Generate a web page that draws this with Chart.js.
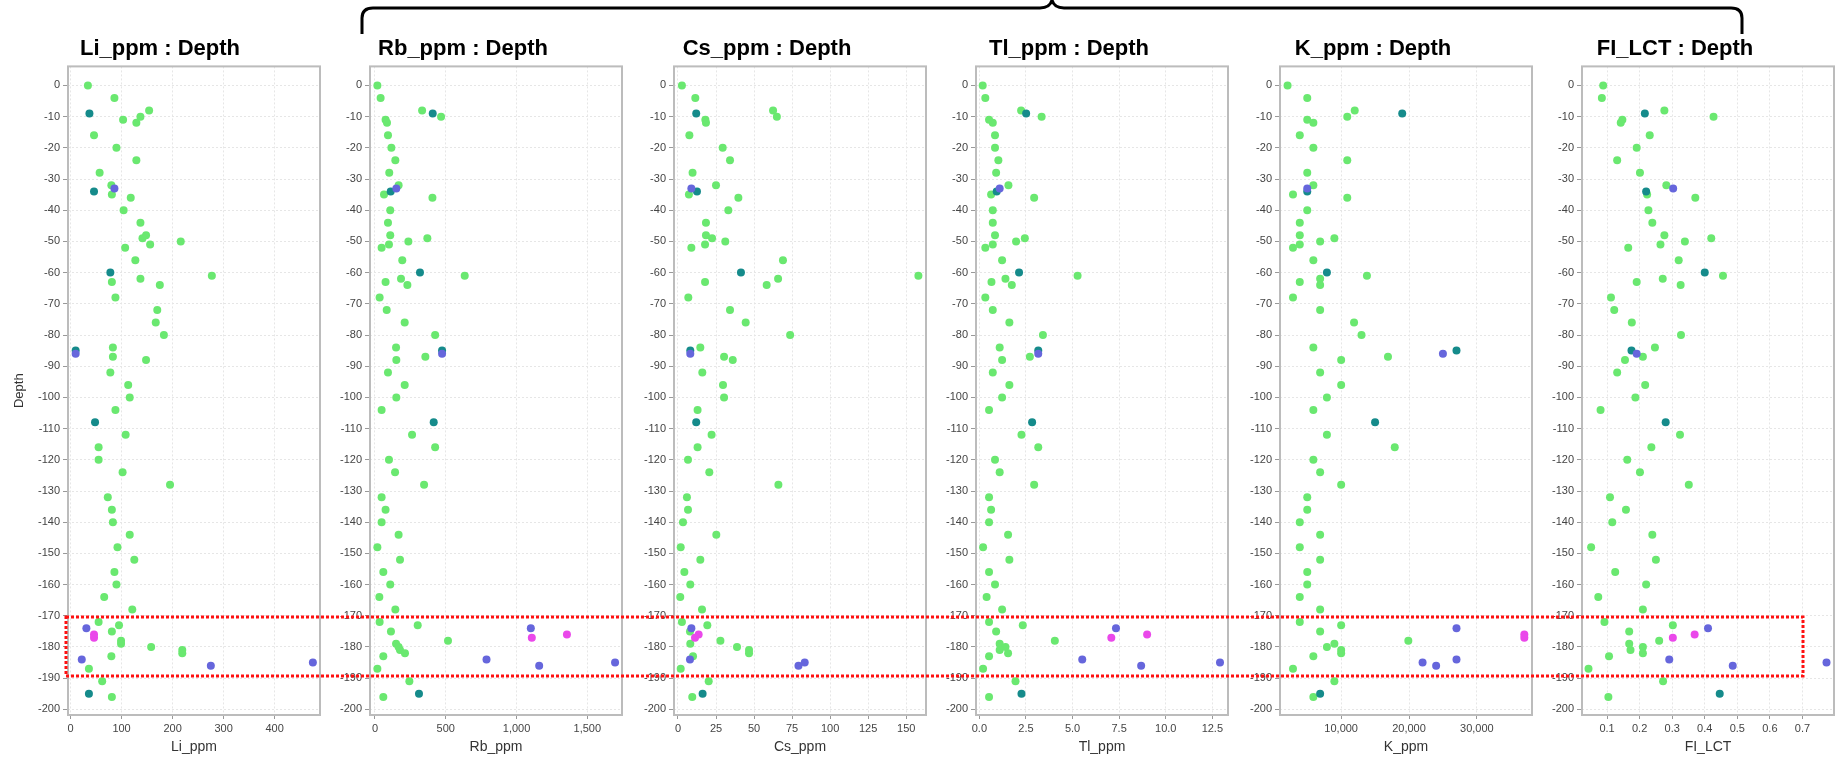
<!DOCTYPE html>
<html>
<head>
<meta charset="utf-8">
<script src="https://cdn.jsdelivr.net/npm/chart.js@4.4.1/dist/chart.umd.min.js"></script>
<style>
  html, body { margin: 0; padding: 0; background: #fff; overflow: hidden; }
  #page { position: relative; width: 1836px; height: 759px; }
  .panel { position: absolute; top: 0; height: 759px; }
  #overlay { position: absolute; left: 0; top: 0; pointer-events: none; }
</style>
</head>
<body>
<div id="page">
  <canvas id="overlay" width="1836" height="759"></canvas>
</div>
<script>
// samples, top to bottom
const depth = [0, -4, -8, -9, -10, -11, -12, -16, -20, -24, -28, -32, -33, -34, -35, -36, -40, -44, -48, -49,
  -50, -51, -52, -56, -60, -61, -62, -63, -64, -68, -72, -76, -80, -84, -85, -86, -87, -88, -92, -96,
  -100, -104, -108, -112, -116, -120, -124, -128, -132, -136, -140, -144, -148, -152, -156, -160, -164, -168, -172, -173,
  -174, -175, -176, -177, -178, -179, -180, -181, -182, -183, -184, -185, -186, -187, -191, -195, -196];

// g = green, t = teal, b = blue, m = magenta
const group = ["g", "g", "g", "t", "g", "g", "g", "g", "g", "g", "g", "g", "b", "t", "g", "g", "g", "g", "g", "g",
  "g", "g", "g", "g", "t", "g", "g", "g", "g", "g", "g", "g", "g", "g", "t", "b", "g", "g", "g", "g",
  "g", "g", "t", "g", "g", "g", "g", "g", "g", "g", "g", "g", "g", "g", "g", "g", "g", "g", "g", "g",
  "b", "g", "m", "m", "g", "g", "g", "g", "g", "g", "b", "b", "b", "g", "g", "t", "g"];

const liPpm = [34, 86, 154, 37, 137, 103, 129, 46, 90, 129, 57, 80, 86, 46, 81, 118, 104, 137, 148, 141,
  216, 156, 107, 127, 78, 277, 137, 81, 175, 88, 170, 167, 183, 83, 10, 10, 83, 148, 78, 113,
  116, 88, 48, 108, 55, 55, 102, 195, 73, 81, 83, 116, 92, 125, 86, 90, 66, 121, 55, 95,
  31, 81, 46, 46, 99, 99, 158, 219, 219, 80, 22, 475, 275, 36, 62, 36, 81];

const rbPpm = [17, 40, 333, 408, 467, 75, 85, 92, 116, 144, 101, 167, 151, 111, 64, 406, 108, 92, 108, 370,
  236, 99, 47, 193, 318, 634, 184, 75, 229, 33, 83, 210, 425, 149, 474, 474, 356, 151, 92, 210,
  151, 47, 415, 262, 425, 99, 142, 347, 47, 75, 47, 167, 17, 177, 59, 108, 31, 144, 33, 302,
  1101, 113, 1356, 1108, 516, 149, 167, 177, 212, 59, 788, 1696, 1160, 17, 243, 311, 59];

const csPpm = [2.6, 11.4, 62.5, 12, 65, 18, 18.4, 7.5, 29.4, 34.2, 9.6, 25, 8.8, 12.5, 7.2, 39.7, 33.1, 18.4, 18.4, 22.4,
  31.1, 17.8, 8.8, 69, 41.4, 158, 65.8, 17.8, 58.3, 6.8, 34.2, 44.5, 73.7, 14.7, 8.1, 8.1, 30.3, 36, 16, 29.6,
  30.3, 12.9, 12, 22.1, 12.9, 6.6, 20.6, 66, 5.9, 6.6, 3.3, 25.2, 1.8, 14.7, 4.2, 8.1, 1.5, 15.8, 2.6, 19.3,
  8.8, 7.9, 13.6, 11.2, 27.9, 8.1, 38.8, 46.7, 46.7, 9.9, 7.9, 83.3, 79.2, 1.8, 20.2, 16.2, 9.4];

const tlPpm = [0.18, 0.32, 2.24, 2.51, 3.34, 0.52, 0.72, 0.84, 0.84, 1.02, 0.9, 1.56, 1.09, 0.93, 0.63, 2.94, 0.72, 0.72, 0.84, 2.44,
  1.97, 0.72, 0.32, 1.22, 2.13, 5.27, 1.4, 0.65, 1.74, 0.32, 0.72, 1.61, 3.41, 1.09, 3.16, 3.16, 2.71, 1.22, 0.72, 1.61,
  1.22, 0.52, 2.83, 2.26, 3.16, 0.84, 1.09, 2.94, 0.52, 0.63, 0.52, 1.54, 0.2, 1.61, 0.52, 0.84, 0.39, 1.22, 0.52, 2.33,
  7.33, 0.9, 9.0, 7.08, 4.05, 1.09, 1.4, 1.09, 1.54, 0.52, 5.52, 12.91, 8.68, 0.2, 1.94, 2.26, 0.52];

const kPpm = [2100, 5000, 12000, 19000, 10900, 5000, 5900, 3900, 5900, 10900, 5000, 5900, 5000, 5000, 2900, 10900, 5000, 3900, 3900, 9000,
  6900, 3900, 2900, 5900, 7900, 13800, 6900, 3900, 6900, 2900, 6900, 11900, 13000, 5900, 27000, 25000, 16900, 10000, 6900, 10000,
  7900, 5900, 15000, 7900, 17900, 5900, 6900, 10000, 5000, 5000, 3900, 6900, 3900, 6900, 5000, 5000, 3900, 6900, 3900, 10000,
  27000, 6900, 37000, 37000, 19900, 9000, 7900, 10000, 10000, 5900, 27000, 22000, 24000, 2900, 9000, 6900, 5900];

const fiLct = [0.088, 0.084, 0.276, 0.216, 0.427, 0.147, 0.142, 0.231, 0.191, 0.131, 0.201, 0.282, 0.303, 0.22, 0.223, 0.371, 0.227, 0.239, 0.276, 0.42,
  0.339, 0.264, 0.165, 0.32, 0.4, 0.456, 0.271, 0.191, 0.326, 0.112, 0.122, 0.176, 0.327, 0.247, 0.175, 0.191, 0.21, 0.155, 0.131, 0.217,
  0.187, 0.08, 0.28, 0.324, 0.236, 0.162, 0.201, 0.351, 0.109, 0.158, 0.116, 0.239, 0.051, 0.25, 0.125, 0.22, 0.073, 0.21, 0.092, 0.302,
  0.41, 0.168, 0.369, 0.302, 0.26, 0.168, 0.21, 0.172, 0.21, 0.106, 0.291, 0.774, 0.486, 0.043, 0.272, 0.446, 0.104];

// tick labels
const depthTicks = [0, -10, -20, -30, -40, -50, -60, -70, -80, -90, -100, -110, -120, -130, -140, -150, -160, -170, -180, -190, -200];
const liTicks = [0, 100, 200, 300, 400];
const rbTicks = [0, 500, 1000, 1500];
const csTicks = [0, 25, 50, 75, 100, 125, 150];
const tlTicks = [0, 2.5, 5, 7.5, 10, 12.5];
const kTicks = [10000, 20000, 30000];
const fiTicks = [0.1, 0.2, 0.3, 0.4, 0.5, 0.6, 0.7];

const groupColors = { m: "#ea48ea", b: "#6666dc", t: "#158b8b", g: "#6ae870" };
const drawOrder = ["m", "b", "t", "g"]; // first dataset ends up on top

Chart.defaults.font.family = "'Liberation Sans', Arial, sans-serif";

const frame = {
  id: "frame",
  afterDraw(chart) {
    const a = chart.chartArea;
    const c = chart.ctx;
    c.save();
    c.strokeStyle = "#bcbcbc";
    c.lineWidth = 2;
    c.strokeRect(a.left, a.top, a.right - a.left, a.bottom - a.top);
    c.restore();
  },
};

function makePanel(p) {
  const page = document.getElementById("page");
  const wrap = document.createElement("div");
  wrap.className = "panel";
  const width = p.yW + 252 + p.rP;
  wrap.style.left = p.left + "px";
  wrap.style.width = width + "px";
  const canvas = document.createElement("canvas");
  canvas.width = width;
  canvas.height = 759;
  wrap.appendChild(canvas);
  page.insertBefore(wrap, document.getElementById("overlay"));

  const datasets = drawOrder.map((g) => ({
    data: p.values
      .map((v, i) => ({ x: v, y: depth[i], g: group[i] }))
      .filter((pt) => pt.g === g),
    backgroundColor: groupColors[g],
    borderWidth: 0,
    pointRadius: 4,
  }));

  new Chart(canvas.getContext("2d"), {
    type: "scatter",
    data: { datasets: datasets },
    options: {
      responsive: false,
      animation: false,
      layout: { padding: { left: 0, right: p.rP, top: 0, bottom: 0 } },
      plugins: {
        legend: { display: false },
        tooltip: { enabled: false },
        title: {
          display: true,
          text: p.title,
          color: "#000",
          font: { size: 22, weight: "bold" },
          padding: { top: 36, bottom: 4 },
        },
      },
      scales: {
        x: {
          type: "linear",
          min: p.min,
          max: p.max,
          afterBuildTicks: (s) => { s.ticks = p.ticks.map((v) => ({ value: v })); },
          afterFit: (s) => { s.height = 44; },
          grid: { color: "#e6e6e6", lineWidth: 1, tickLength: 4, tickColor: "#999" },
          border: { display: false, dash: [2, 2] },
          ticks: {
            color: "#444",
            font: { size: 11 },
            padding: 3,
            maxRotation: 0,
            callback: (v) => (p.decimals ? v.toFixed(p.decimals) : v.toLocaleString("en-US")),
          },
          title: { display: true, text: p.xLabel, color: "#333", font: { size: 14 }, padding: { top: 0, bottom: 3 } },
        },
        y: {
          type: "linear",
          min: -201.8,
          max: 6.1,
          afterBuildTicks: (s) => { s.ticks = depthTicks.map((v) => ({ value: v })); },
          afterFit: (s) => { s.width = p.yW; },
          grid: { color: "#e6e6e6", lineWidth: 1, tickLength: 5, tickColor: "#999" },
          border: { display: false, dash: [2, 2] },
          ticks: { color: "#444", font: { size: 11 }, padding: 3 },
          title: { display: p.yTitle, text: "Depth", color: "#333", font: { size: 13 }, padding: { top: 12, bottom: 0 } },
        },
      },
    },
    plugins: [frame],
  });
}

function drawOverlay() {
  const c = document.getElementById("overlay").getContext("2d");

  // brace over the middle panels
  c.strokeStyle = "#000";
  c.lineWidth = 3;
  c.beginPath();
  c.moveTo(362, 34);
  c.lineTo(362, 18);
  c.quadraticCurveTo(362, 8, 373, 8);
  c.lineTo(1040, 8);
  c.quadraticCurveTo(1050, 8, 1052, 0);
  c.quadraticCurveTo(1054, 8, 1064, 8);
  c.lineTo(1731, 8);
  c.quadraticCurveTo(1742, 8, 1742, 18);
  c.lineTo(1742, 34);
  c.stroke();

  // dotted box round the -170 to -190 interval
  c.strokeStyle = "#ff1010";
  c.lineWidth = 3;
  c.setLineDash([3, 2]);
  c.strokeRect(66, 617, 1737, 59);
}

document.addEventListener("DOMContentLoaded", function () {
  const panels = [
    { title: "Li_ppm : Depth", xLabel: "Li_ppm", values: liPpm, ticks: liTicks, min: -5, max: 489, left: 0, yW: 68, rP: 6, yTitle: true },
    { title: "Rb_ppm : Depth", xLabel: "Rb_ppm", values: rbPpm, ticks: rbTicks, min: -35, max: 1745, left: 304, yW: 66, rP: 4, yTitle: false },
    { title: "Cs_ppm : Depth", xLabel: "Cs_ppm", values: csPpm, ticks: csTicks, min: -2.6, max: 163, left: 608, yW: 66, rP: 4, yTitle: false },
    { title: "Tl_ppm : Depth", xLabel: "Tl_ppm", values: tlPpm, ticks: tlTicks, min: -0.18, max: 13.34, left: 910, yW: 66, rP: 4, yTitle: false, decimals: 1 },
    { title: "K_ppm : Depth", xLabel: "K_ppm", values: kPpm, ticks: kTicks, min: 985, max: 38130, left: 1214, yW: 66, rP: 4, yTitle: false },
    { title: "FI_LCT : Depth", xLabel: "FI_LCT", values: fiLct, ticks: fiTicks, min: 0.023, max: 0.797, left: 1516, yW: 66, rP: 4, yTitle: false },
  ];
  panels.forEach(makePanel);
  drawOverlay();
});
</script>
</body>
</html>
